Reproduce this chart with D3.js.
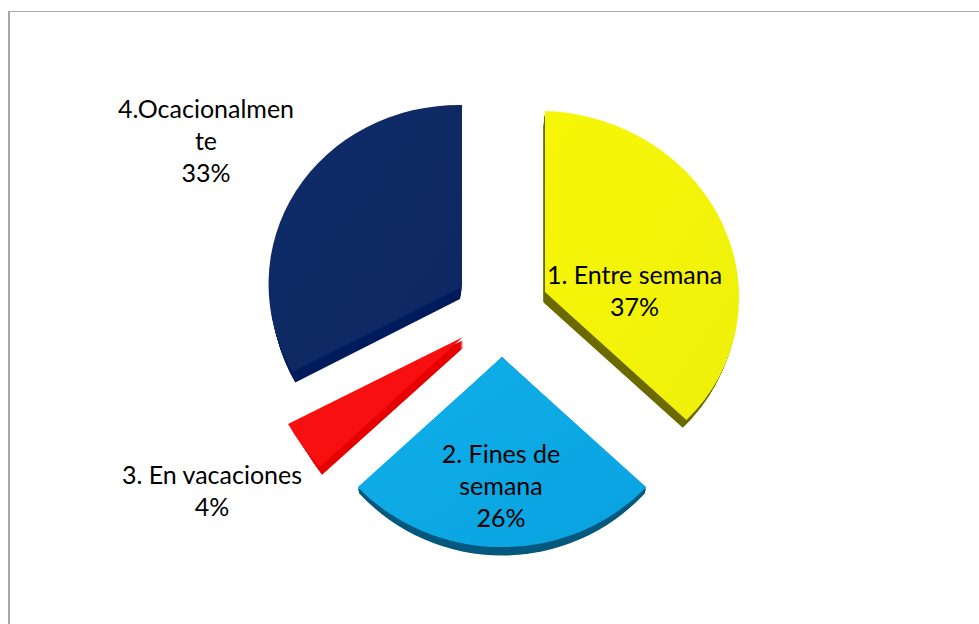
<!DOCTYPE html>
<html>
<head>
<meta charset="utf-8">
<script src="https://cdn.jsdelivr.net/npm/d3@7"></script>
<style>
  html, body { margin: 0; padding: 0; background: #fff; }
  svg { display: block; }
</style>
</head>
<body>
<div id="chart"></div>
<script>
// Valeurs
const categories = ["1. Entre semana", "2. Fines de semana", "3. En vacaciones", "4.Ocacionalmente"];
const values = [37, 26, 4, 33];
const labelLines = [
    ["1. Entre semana"],
    ["2. Fines de", "semana"],
    ["3. En vacaciones"],
    ["4.Ocacionalmen", "te"]
];

// Couleurs
const topColors = [["#f6f706", "#eff00b"], ["#10b0ea", "#09a2e0"], ["#fb1010", "#f40d0d"], ["#102c69", "#0c2760"]];
const sideColors = ["#6a6a00", "#04587e", "#e60000", "#001b5c"];

// Placement des parts éclatées (perspective) : matrice a b c d e f de la face et du bas de la tranche
const topPlacement = [
    [194, 5.5, 0, 181, 545, 292],
    [198, 0, 0, 190, 502, 357],
    [204.8, 12.4, 9.2, 202.8, 463, 337],
    [193.5, 3.1, 0, 182, 462, 287]
];
const sidePlacement = [
    [191, 5.5, 0, 177, 543.5, 302.5],
    [196, 0, 0, 197.5, 502, 358],
    [194.8, 31.3, 1.6, 218.5, 463, 348],
    [188, 3.1, 0, 179, 460, 299]
];
const labelPlacement = [
    { x: 634.5, y: 284 },
    { x: 501, y: 463 },
    { x: 212, y: 484 },
    { x: 206, y: 118 }
];

const WIDTH = 979;
const HEIGHT = 624;
const LINE_HEIGHT = 32;
const SIDE_STEPS = 14;

const svg = d3.select("#chart").append("svg")
    .attr("width", WIDTH)
    .attr("height", HEIGHT);

// Cadre du graphique (seuls haut et gauche sont visibles)
svg.append("line")
    .attr("x1", 8).attr("y1", 11.5).attr("x2", WIDTH).attr("y2", 11.5)
    .attr("stroke", "#ababab").attr("stroke-width", 1);
svg.append("line")
    .attr("x1", 9).attr("y1", 11).attr("x2", 9).attr("y2", HEIGHT)
    .attr("stroke", "#a6a6a6").attr("stroke-width", 2);

const defs = svg.append("defs");
topColors.forEach((c, i) => {
    const g = defs.append("linearGradient")
        .attr("id", "top-" + i)
        .attr("x1", "0%").attr("y1", "0%").attr("x2", "100%").attr("y2", "100%");
    g.append("stop").attr("offset", "0%").attr("stop-color", c[0]);
    g.append("stop").attr("offset", "100%").attr("stop-color", c[1]);
});

const pie = d3.pie().sort(null).value(d => d);
const arc = d3.arc().innerRadius(0).outerRadius(1);
const slices = pie(values);

const groups = svg.selectAll("g.slice")
    .data(slices)
    .join("g")
    .attr("class", "slice");

// Tranche 3D : copies sombres empilées (on saute les premières pour éviter un liseré sombre)
groups.each(function(d, i) {
    const mix = d3.interpolateArray(topPlacement[i], sidePlacement[i]);
    d3.select(this).selectAll("path.side")
        .data(d3.range(4, SIDE_STEPS + 1))
        .join("path")
        .attr("class", "side")
        .attr("d", arc(d))
        .attr("fill", sideColors[i])
        .attr("transform", t => `matrix(${mix(t / SIDE_STEPS).join(",")})`);
});

// Face supérieure
groups.append("path")
    .attr("d", d => arc(d))
    .attr("fill", (d, i) => `url(#top-${i})`)
    .attr("transform", (d, i) => `matrix(${topPlacement[i].join(",")})`);

// Étiquettes
const labels = svg.selectAll("text.label")
    .data(categories)
    .join("text")
    .attr("class", "label")
    .attr("text-anchor", "middle")
    .attr("font-family", "Lato, 'Open Sans', sans-serif")
    .attr("font-size", 25)
    .attr("fill", "#000");

labels.each(function(d, i) {
    const lines = labelLines[i].concat(values[i] + "%");
    d3.select(this).selectAll("tspan")
        .data(lines)
        .join("tspan")
        .attr("x", labelPlacement[i].x)
        .attr("y", (l, j) => labelPlacement[i].y + j * LINE_HEIGHT)
        .text(l => l);
});
</script>
</body>
</html>
